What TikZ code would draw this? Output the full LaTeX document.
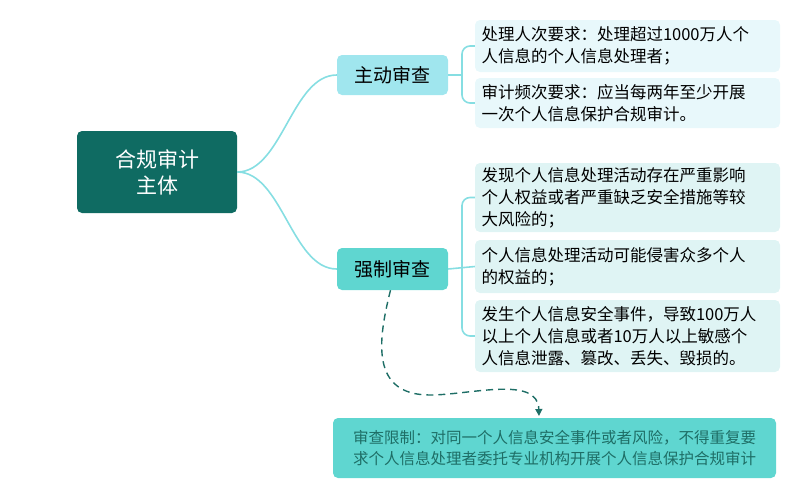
\documentclass[tikz,border=0pt]{standalone}
\usepackage{fontspec}
\newfontfamily\cjk{Noto Sans CJK SC}
\usetikzlibrary{arrows.meta,calc}
\definecolor{rootc}{HTML}{0F6B62}
\definecolor{topc}{HTML}{A0E6EE}
\definecolor{botc}{HTML}{5FD6D0}
\definecolor{leafa}{HTML}{E8F8FB}
\definecolor{leafb}{HTML}{DFF4F4}
\definecolor{linec}{HTML}{86DEE2}
\definecolor{dashc}{HTML}{1E6E66}
\tikzset{box/.style={rounded corners=5pt,inner sep=0pt,font=\cjk}}
\tikzset{leaf/.style={box,minimum width=305pt,text width=292pt,align=left,font=\cjk\fontsize{16.5}{22}\selectfont}}
\tikzset{link/.style={linec,line width=1.6pt}}
\begin{document}
\begin{tikzpicture}[x=1pt,y=-1pt]
  \useasboundingbox (0,0) rectangle (800,499);
  \node[box,fill=rootc,text=white,minimum width=160pt,minimum height=82pt,align=center,font=\cjk\fontsize{21}{26}\selectfont] (root) at (157,172) {合规审计\\主体};
  \node[box,fill=topc,minimum width=111pt,minimum height=40pt,font=\cjk\fontsize{19}{20}\selectfont] (active) at (392.5,75) {主动审查};
  \node[box,fill=botc,minimum width=111pt,minimum height=42pt,font=\cjk\fontsize{19}{20}\selectfont] (forced) at (392.5,269) {强制审查};
  \node[leaf,fill=leafa,minimum height=52pt] (la) at (627.5,46) {处理人次要求：处理超过1000万人个\\人信息的个人信息处理者；};
  \node[leaf,fill=leafa,minimum height=50pt] (lb) at (627.5,103) {审计频次要求：应当每两年至少开展\\一次个人信息保护合规审计。};
  \node[leaf,fill=leafb,minimum height=69pt] (lc) at (627.5,197.5) {发现个人信息处理活动存在严重影响\\个人权益或者严重缺乏安全措施等较\\大风险的；};
  \node[leaf,fill=leafb,minimum height=53pt] (ld) at (627.5,266.5) {个人信息处理活动可能侵害众多个人\\的权益的；};
  \node[leaf,fill=leafb,minimum height=72pt] (le) at (627.5,336) {发生个人信息安全事件，导致100万人\\以上个人信息或者10万人以上敏感个\\人信息泄露、篡改、丢失、毁损的。};
  \node[box,fill=botc,text=dashc,minimum width=443pt,minimum height=60pt,align=left,font=\cjk\fontsize{15.5}{21}\selectfont] (limit) at (554.5,448) {审查限制：对同一个人信息安全事件或者风险，不得重复要\\求个人信息处理者委托专业机构开展个人信息保护合规审计};
  % branches
  \draw[link] (root.east) .. controls +(45,0) and +(-45,0) .. (active.west);
  \draw[link] (root.east) .. controls +(45,0) and +(-45,0) .. (forced.west);
  \draw[link] (active.east) -- (462,75);
  \draw[link,rounded corners=8pt] (la.west) -- (462,46) -- (462,103) -- (lb.west);
  \draw[link] (forced.east) -- (ld.west);
  \draw[link,rounded corners=8pt] (lc.west) -- (462,197.5) -- (462,336) -- (le.west);
  \coordinate (tip) at (539,416);
  \draw[dashc,line width=1.4pt,dash pattern=on 7pt off 5pt,-{Triangle[length=7pt,width=7pt]}]
    ($(forced.south)+(-2,0)$) .. controls (378,340) and (370,395) .. (430,395)
    .. controls (470,395) and (538,375) .. (tip);
\end{tikzpicture}
\end{document}
